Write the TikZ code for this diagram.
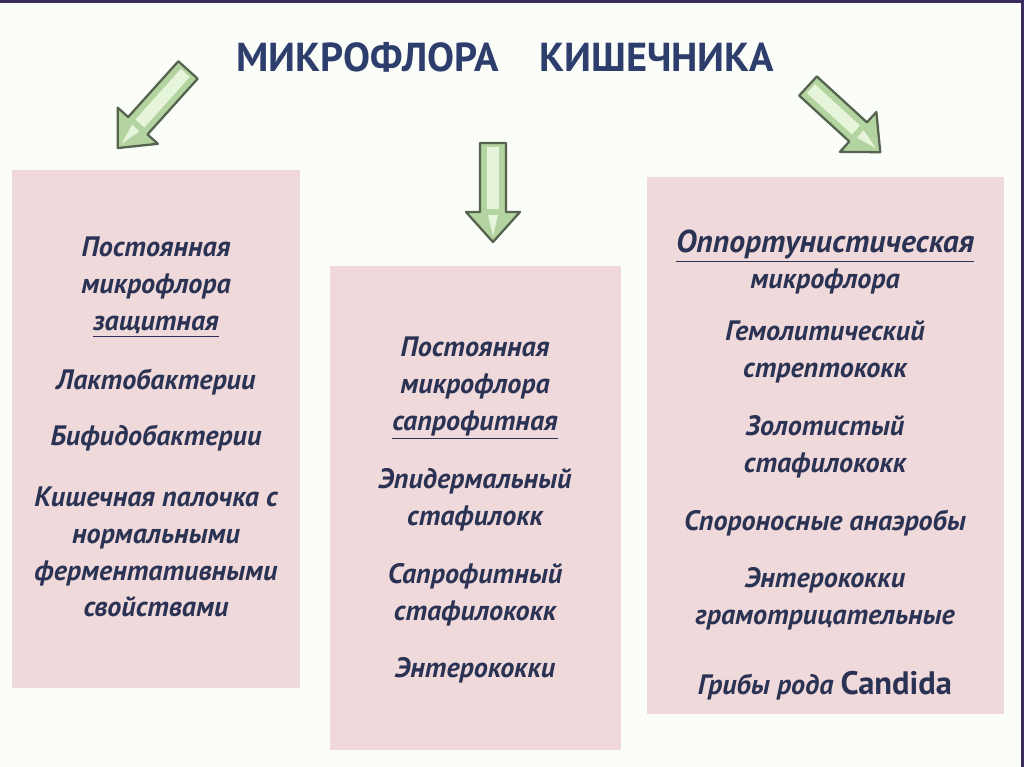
\documentclass[tikz,border=0pt]{standalone}
\usepackage{fontspec}
\setmainfont{PT Sans}
\definecolor{inkblue}{HTML}{2B3354}
\definecolor{titleblue}{HTML}{2E3E6C}
\definecolor{boxpink}{HTML}{F0D9DA}
\definecolor{frameviolet}{HTML}{3A2D5E}
\definecolor{arrowedge}{HTML}{55634F}
\definecolor{arrowfill}{HTML}{B3D3A0}
\definecolor{arrowlight}{HTML}{E6F5DA}
\definecolor{pagebg}{HTML}{FBFDF9}

% block arrow: tail point, angle, length
\newcommand{\greenarrow}[3]{%
  \begin{scope}[shift={#1}, rotate=#2]
    \filldraw[draw=arrowedge, fill=arrowfill, line width=1.3pt, line join=round]
      (0,-13) -- ({#3-30},-13) -- ({#3-30},-27) -- (#3,0) -- ({#3-30},27)
      -- ({#3-30},13) -- (0,13) -- cycle;
    \fill[arrowlight] (4,-6) -- ({#3-33},-6) -- ({#3-33},6) -- (4,6) -- cycle;
    \fill[arrowlight] ({#3-27},-5) -- ({#3-6},0) -- ({#3-27},5) -- cycle;
  \end{scope}}

\tikzset{
  entry/.style={font=\fontsize{16}{21}\selectfont\bfseries\itshape,
    text=inkblue, align=center, inner sep=0pt},
}

\begin{document}
\begin{tikzpicture}[x=0.02cm, y=-0.02cm]
    \useasboundingbox (0,0) rectangle (1024,767);
    \fill[pagebg] (0,0) rectangle (1024,767);
    \draw[frameviolet, line width=1.8pt] (0,1.5) -- (1022.5,1.5) -- (1022.5,767);
    % title
    \node[font=\fontsize{23}{28}\selectfont\bfseries, text=titleblue, inner sep=0pt]
      (title) at (505,57) {МИКРОФЛОРА\hspace{1em}КИШЕЧНИКА};
    % arrows
    \greenarrow{(188,70)}{-132}{105}
    \greenarrow{(493,143)}{-90}{99}
    \greenarrow{(808,86)}{-42.5}{98}
    % boxes
    \fill[boxpink] (12,170) rectangle (300,688);
    \fill[boxpink] (330,266) rectangle (621,750);
    \fill[boxpink] (647,177) rectangle (1004,714);
    % left box
    \node[entry] (protect) at (156,287) {Постоянная\\микрофлора\\\underline{защитная}};
    \node[entry] (lacto) at (156,382) {Лактобактерии};
    \node[entry] (bifido) at (156,438) {Бифидобактерии};
    \node[entry] (ecoli) at (156,552)
      {Кишечная палочка с\\нормальными\\ферментативными\\свойствами};
    % middle box
    \node[entry] (sapro) at (475,388) {Постоянная\\микрофлора\\\underline{сапрофитная}};
    \node[entry] (epid) at (475,500) {Эпидермальный\\стафилокк};
    \node[entry] (saprost) at (475,595) {Сапрофитный\\стафилококк};
    \node[entry] (entero) at (475,670) {Энтерококки};
    % right box
    \node[entry] (opport) at (825,262)
      {{\fontsize{18}{21}\selectfont\underline{Оппортунистическая}}\\микрофлора};
    \node[entry] (gemol) at (825,352) {Гемолитический\\стрептококк};
    \node[entry] (aureus) at (825,447) {Золотистый\\стафилококк};
    \node[entry] (spore) at (825,523) {Спороносные анаэробы};
    \node[entry] (enterog) at (825,599) {Энтерококки\\грамотрицательные};
    \node[entry] (candida) at (825,686)
      {Грибы рода {\upshape\fontsize{18.5}{21}\selectfont Candida}};
  \end{tikzpicture}
\end{document}
